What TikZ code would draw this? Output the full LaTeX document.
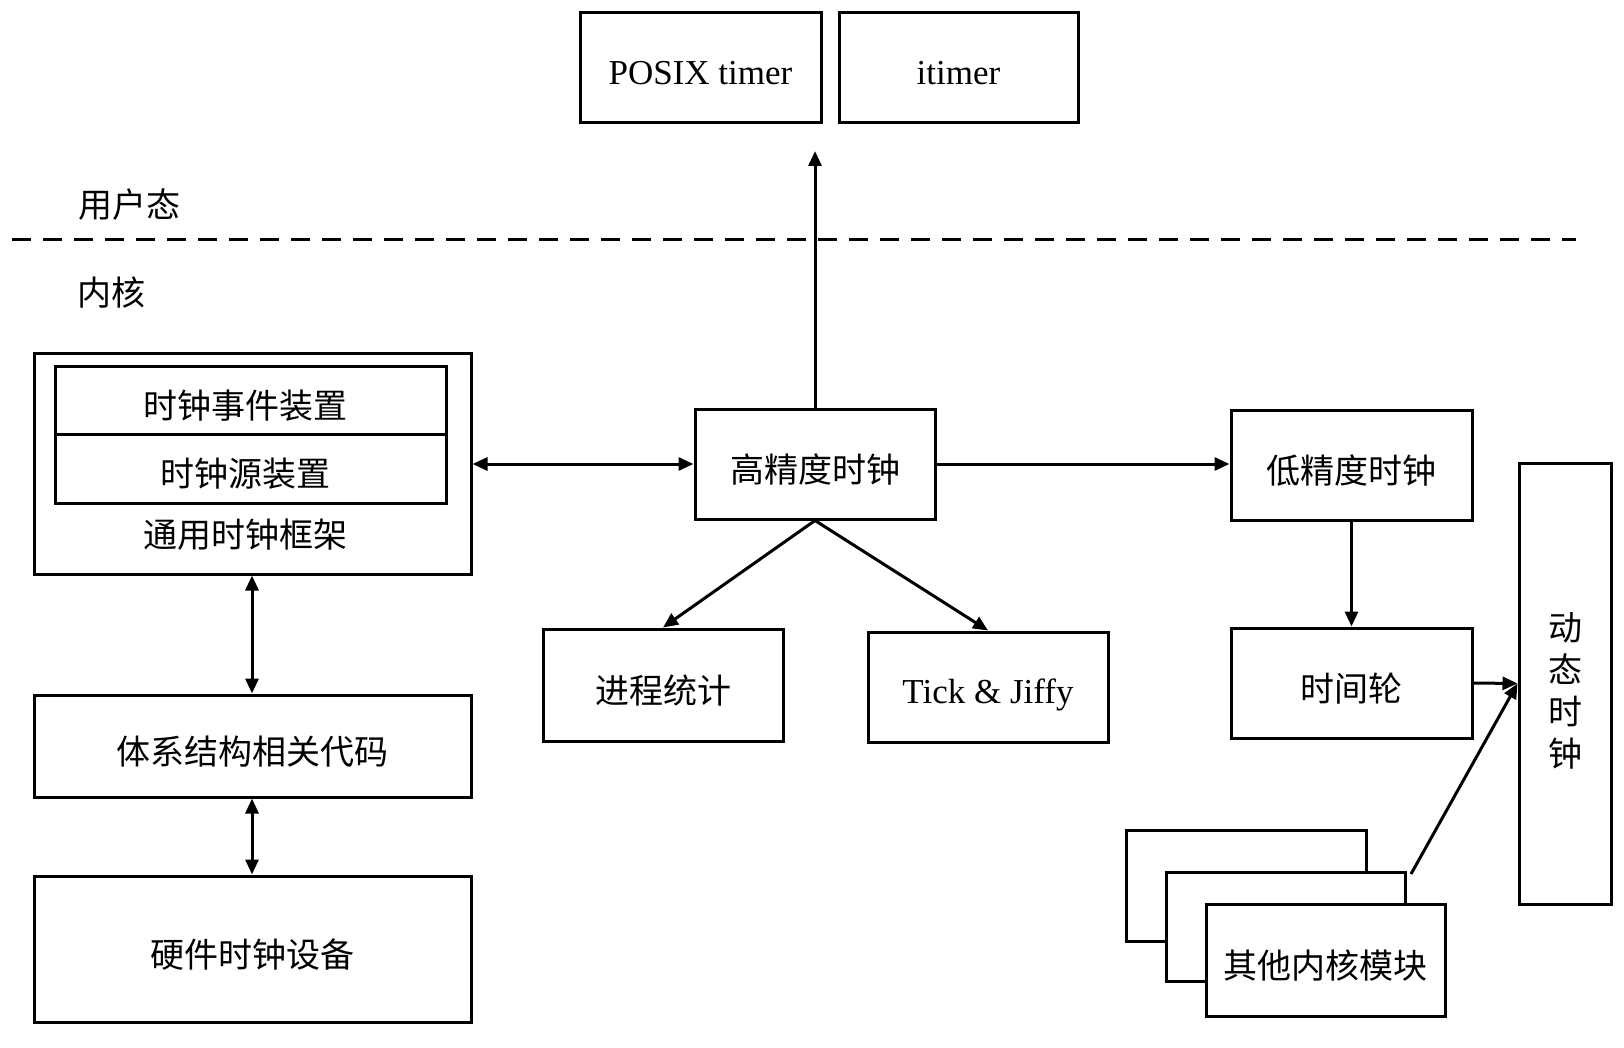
\documentclass[tikz,border=0pt]{standalone}
\usepackage{fontspec}
\setmainfont{Liberation Serif}
\newfontfamily\cjk{Noto Sans CJK SC}
\usetikzlibrary{arrows.meta}
\begin{document}
\begin{tikzpicture}[x=1pt,y=-1pt,
  box/.style={draw, line width=3pt, fill=white, inner sep=0pt, text height=36pt, text depth=0pt, font=\fontsize{34}{42}\selectfont\cjk},
  lbox/.style={box, text height=33pt, text depth=0pt, font=\fontsize{35}{40}\selectfont},
  lbl/.style={inner sep=0pt, font=\fontsize{34}{42}\selectfont\cjk},
  arr/.style={line width=3pt, -{Triangle[length=15pt,width=13pt]}},
  darr/.style={line width=3pt, {Triangle[length=15pt,width=13pt]}-{Triangle[length=15pt,width=13pt]}}]
\fill[white] (0,0) rectangle (1624,1048);
\useasboundingbox (0,0) rectangle (1624,1048);

% user space
\node[lbox, minimum width=241pt, minimum height=110pt] (posix) at (700.5,68) {POSIX timer};
\node[lbox, minimum width=239pt, minimum height=110pt] (itimer) at (958.5,68) {itimer};
\node[lbl] (user) at (129,205) {用户态};
\node[lbl] (kern) at (111,293) {内核};
\coordinate (dl) at (12,240);
\coordinate (dr) at (1576,240);
\draw[line width=3pt, dash pattern=on 19pt off 12pt] (dl) -- (dr);

% left column
\node[box, minimum width=437pt, minimum height=221pt] (gcf) at (252.5,463.5) {};
\node[box, minimum width=391pt, minimum height=68pt] (ced) at (250.5,400) {\hspace*{-10pt}时钟事件装置};
\node[box, minimum width=391pt, minimum height=69pt] (csd) at (250.5,468.5) {\hspace*{-10pt}时钟源装置};
\node[lbl] (gcft) at (245,535) {通用时钟框架};
\node[box, minimum width=437pt, minimum height=102pt] (arch) at (252.5,746) {体系结构相关代码};
\node[box, minimum width=437pt, minimum height=146pt] (hw) at (252.5,949) {硬件时钟设备};

% middle
\node[box, minimum width=240pt, minimum height=110pt] (hres) at (815,464) {高精度时钟};
\node[box, minimum width=240pt, minimum height=112pt] (proc) at (663,685) {进程统计};
\node[lbox, minimum width=240pt, minimum height=110pt] (tick) at (988,687) {Tick \& Jiffy};
\coordinate (uptip) at (815,151);

% right
\node[box, minimum width=241pt, minimum height=110pt] (lres) at (1351.5,465) {低精度时钟};
\node[box, minimum width=241pt, minimum height=110pt] (wheel) at (1351.5,683) {时间轮};
\node[box, minimum width=92pt, minimum height=441pt] (dyn) at (1565,683.5) {};
\node[lbl, align=center] (dynt) at (1565,691) {动\\态\\时\\钟};
\node[box, minimum width=240pt, minimum height=111pt] (back) at (1246,885.5) {};
\node[box, minimum width=239pt, minimum height=109pt] (mid) at (1285.5,926.5) {};
\node[box, minimum width=239pt, minimum height=112pt] (front) at (1325.5,960) {其他内核模块};
\coordinate (midout) at (1411,874);

% connectors
\draw[arr] (hres.north) -- (uptip);
\draw[darr] (gcf.east |- hres.west) -- (hres.west);
\draw[arr] (hres.east) -- (lres.west |- hres.east);
\draw[arr] (hres.south) -- (proc.north);
\draw[arr] (hres.south) -- (tick.north);
\draw[darr] (gcf.south -| 252,0) -- (arch.north -| 252,0);
\draw[darr] (arch.south -| 252,0) -- (hw.north -| 252,0);
\draw[arr] (lres.south) -- (wheel.north);
\draw[arr] (wheel.east) -- (dyn.west);
\draw[arr] (midout) -- (dyn.west);
\end{tikzpicture}
\end{document}
